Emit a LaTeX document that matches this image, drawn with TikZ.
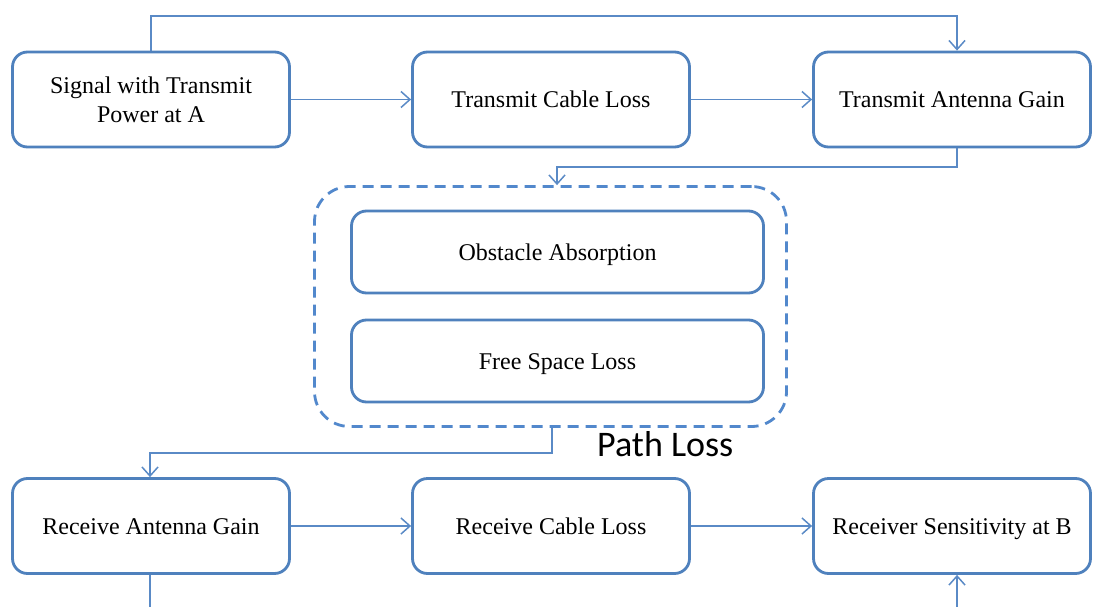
\documentclass[tikz,border=0pt]{standalone}
\usepackage{fontspec}
\setmainfont{Liberation Serif}
\newfontfamily\pathfont{Carlito}
\usetikzlibrary{arrows.meta}
\definecolor{boxblue}{HTML}{4F81BD}
\definecolor{linkblue}{HTML}{5A8AC6}
\definecolor{dashblue}{HTML}{5288CC}
\tikzset{
  block/.style={draw=boxblue, line width=2.8pt, rounded corners=15pt, fill=white,
    minimum width=277pt, minimum height=95pt, inner sep=0pt, align=center,
    font=\fontsize{24}{29}\selectfont},
  single/.style={block, text height=16pt, text depth=0pt},
  inner block/.style={single, minimum width=412pt, minimum height=82pt},
  link/.style={draw=linkblue, line width=1.5pt},
  arr/.style={link, -{Straight Barb[length=9pt,width=16pt,line width=1.5pt]}},
  group/.style={draw=dashblue, line width=2.8pt, dash pattern=on 11pt off 7pt,
    rounded corners=35pt, minimum width=472pt, minimum height=240pt, inner sep=0pt}
}
\begin{document}
\begin{tikzpicture}[x=1pt,y=-1pt]
\useasboundingbox[fill=white] (0,0) rectangle (1094,607);
% nodes
\node[block] (A) at (151,99.5) {Signal with Transmit\\Power at A};
\node[single] (B) at (551,99.5) {Transmit Cable Loss};
\node[single] (C) at (952,99.5) {Transmit Antenna Gain};
\node[group] (PL) at (550.5,306.5) {};
\node[inner block] (O) at (557.5,252) {Obstacle Absorption};
\node[inner block] (F) at (557.5,361) {Free Space Loss};
\node[anchor=base west, inner sep=0pt, font=\pathfont\fontsize{36}{40}\selectfont] (PLT) at (597,456) {Path Loss};
\node[single] (D) at (151,526) {Receive Antenna Gain};
\node[single] (E) at (551,526) {Receive Cable Loss};
\node[single] (R) at (952,526) {Receiver Sensitivity at B};
% helper coordinates
\coordinate (top) at (0,16);
\coordinate (mid1) at (0,167);
\coordinate (mid2) at (0,453);
\coordinate (botL) at (150,607);
\coordinate (botR) at (957,607);
% connectors
\draw[arr] (A.north) -- (A.north |- top) -| ([xshift=5pt]C.north);
\draw[arr] (A.east) -- (B.west);
\draw[arr] (B.east) -- (C.west);
\draw[arr] ([xshift=5pt]C.south) -- ([xshift=5pt]C.south |- mid1) -| ([xshift=6.5pt]PL.north);
\draw[arr] ([xshift=1.5pt]PL.south) -- ([xshift=1.5pt]PL.south |- mid2) -| ([xshift=-1pt]D.north);
\draw[arr] (D.east) -- (E.west);
\draw[arr] (E.east) -- (R.west);
\draw[link] ([xshift=-1pt]D.south) -- (botL);
\draw[arr] (botR) -- ([xshift=5pt]R.south);
\end{tikzpicture}
\end{document}
